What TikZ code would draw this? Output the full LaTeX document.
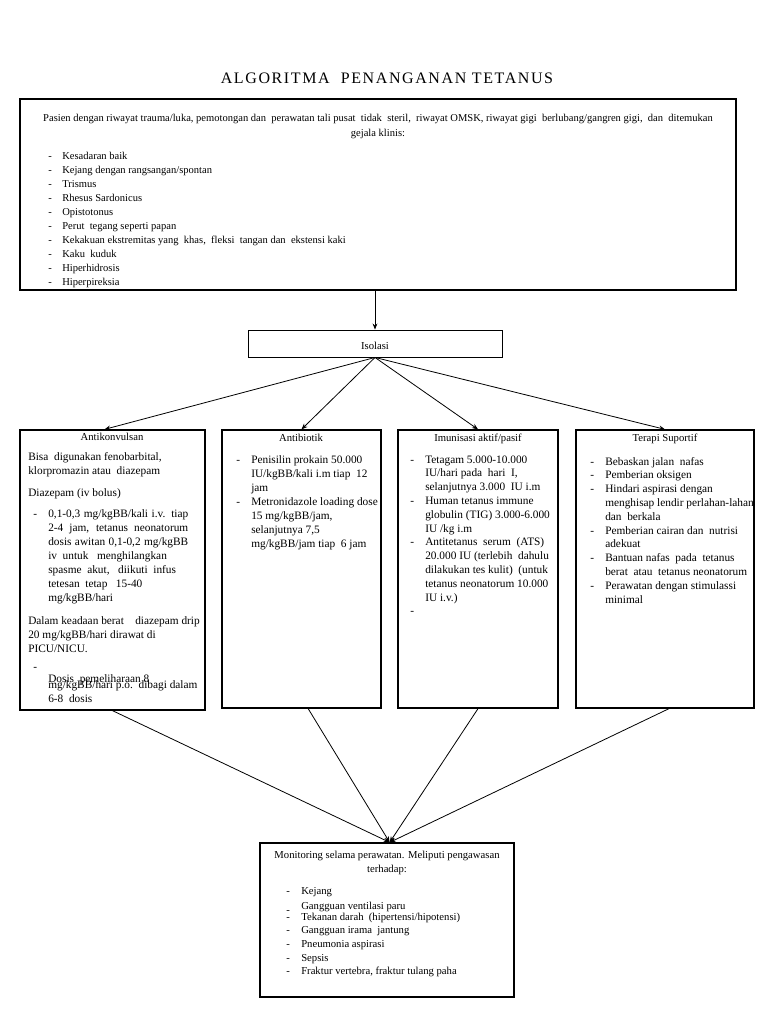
\documentclass[tikz,border=0pt]{standalone}
\usepackage{fontspec}
\setmainfont{Liberation Serif}
\newfontfamily\titlefont[LetterSpace=10]{Liberation Serif}
\usetikzlibrary{arrows.meta,fit}
\newcommand{\dd}[1][11.25pt]{\makebox[#1][l]{-}}
\newcommand{\ii}[1][11.25pt]{\hspace*{#1}}
\newcommand{\ft}{\fontsize{7.9}{10.5}\selectfont}
\newcommand{\fc}{\fontsize{8.5}{10.5}\selectfont}
\newcommand{\fcc}{\fontsize{8.5}{10.35}\selectfont}
\newcommand{\fh}{\fontsize{8}{10}\selectfont}
\begin{document}
\begin{tikzpicture}[x=0.75pt,y=-0.75pt,
  bigbox/.style={draw, line width=1.3pt, inner sep=0pt},
  colbox/.style={draw, line width=0.95pt, inner sep=0pt},
  thinbox/.style={draw, line width=0.7pt, inner sep=0pt},
  tx/.style={anchor=base west, inner sep=0pt},
  tc/.style={anchor=base, inner sep=0pt},
  conn/.style={line width=0.6pt, -{Stealth[length=4.5pt,width=3.6pt]}}]
\useasboundingbox (0,0) rectangle (768,1024);
\fill[white] (0,0) rectangle (768,1024);

% title
\node[tc] (title) at (387,84) {\titlefont\fontsize{12}{14}\selectfont ALGORITMA\ \ PENANGANAN TETANUS};

% top box
\node[bigbox, fit={(20,99) (736,290)}] (top) {};
\node[tc] (t1) at (378,122) {\ft Pasien dengan riwayat trauma/luka, pemotongan dan\ \ perawatan tali pusat\ \ tidak\ \ steril,\ \ riwayat OMSK, riwayat gigi\ \ berlubang/gangren gigi,\ \ dan\ \ ditemukan};
\node[tc] (t2) at (378,136) {\ft gejala klinis:};
\node[tx] (t3) at (48,159) {\parbox[t]{500pt}{\ft\raggedright
\dd[10.5pt]Kesadaran baik\\
\dd[10.5pt]Kejang dengan rangsangan/spontan\\
\dd[10.5pt]Trismus\\
\dd[10.5pt]Rhesus Sardonicus\\
\dd[10.5pt]Opistotonus\\
\dd[10.5pt]Perut\ \ tegang seperti papan\\
\dd[10.5pt]Kekakuan ekstremitas yang\ \ khas,\ \ fleksi\ \ tangan dan\ \ ekstensi kaki\\
\dd[10.5pt]Kaku\ \ kuduk\\
\dd[10.5pt]Hiperhidrosis\\
\dd[10.5pt]Hiperpireksia}};

% isolasi
\node[thinbox, fit={(248,330) (502,357)}] (iso) {};
\node[tc] (isot) at (375,349) {\fh Isolasi};

% column boxes
\node[colbox, fit={(20,430) (205,710)}] (ak) {};
\node[colbox, fit={(222,430) (381,708)}] (ab) {};
\node[colbox, fit={(398,430) (558,708)}] (im) {};
\node[colbox, fit={(576,430) (754,708)}] (tp) {};

% Antikonvulsan
\node[tc] (akt) at (112,440) {\fh Antikonvulsan};
\node[tx] (ak1) at (28,460) {\parbox[t]{160pt}{\fc\raggedright Bisa\ \ digunakan fenobarbital,\\ klorpromazin atau\ \ diazepam}};
\node[tx] (ak2) at (28,496) {\fc Diazepam (iv bolus)};
\node[tx] (ak3) at (33,517) {\parbox[t]{160pt}{\fc\raggedright
\dd\makebox[105pt][s]{0,1-0,3 mg/kgBB/kali i.v. tiap}\\
\ii\makebox[105pt][s]{2-4 jam, tetanus neonatorum}\\
\ii\makebox[105pt][s]{dosis awitan 0,1-0,2 mg/kgBB}\\
\ii iv\ \ untuk\ \ \ menghilangkan\\
\ii spasme\ \ akut,\ \ \ diikuti\ \ infus\\
\ii tetesan\ \ tetap\ \ \ 15-40\\
\ii mg/kgBB/hari}};
\node[tx] (ak4) at (28,624) {\parbox[t]{160pt}{\fc\raggedright Dalam keadaan berat\ \ \ \ diazepam drip\\ 20 mg/kgBB/hari dirawat di\\ PICU/NICU.}};
\node[tx] (ak5) at (33,670) {\fc -};
\node[tx] (ak6) at (48,682) {\fc Dosis\ \ pemeliharaan 8};
\node[tx] (ak7) at (48,688) {\parbox[t]{160pt}{\fc\raggedright mg/kgBB/hari p.o.\ \ dibagi dalam\\ 6-8\ \ dosis}};

% Antibiotik
\node[tc] (abt) at (301,441) {\fh Antibiotik};
\node[tx] (ab1) at (236,463) {\parbox[t]{140pt}{\fc\raggedright
\dd Penisilin prokain 50.000\\
\ii IU/kgBB/kali i.m tiap\ \ 12\\
\ii jam\\
\dd Metronidazole loading dose\\
\ii 15 mg/kgBB/jam,\\
\ii selanjutnya 7,5\\
\ii mg/kgBB/jam tiap\ \ 6 jam}};

% Imunisasi
\node[tc] (imt) at (478,441) {\fh Imunisasi aktif/pasif};
\node[tx] (im1) at (410,463) {\parbox[t]{140pt}{\fcc\raggedright
\dd Tetagam 5.000-10.000\\
\ii IU/hari pada\ \ hari\ \ I,\\
\ii selanjutnya 3.000\ \ IU i.m\\
\dd Human tetanus immune\\
\ii globulin (TIG) 3.000-6.000\\
\ii IU /kg i.m\\
\dd Antitetanus\ \ serum\ \ (ATS)\\
\ii 20.000 IU (terlebih\ \ dahulu\\
\ii dilakukan tes kulit)\ \ (untuk\\
\ii tetanus neonatorum 10.000\\
\ii IU i.v.)}};
\node[tx] (im2) at (410,614) {\fc -};

% Terapi Suportif
\node[tc] (tpt) at (665,441) {\fh Terapi Suportif};
\node[tx] (tp1) at (590,465) {\parbox[t]{160pt}{\fcc\raggedright
\dd Bebaskan jalan\ \ nafas\\
\dd Pemberian oksigen\\
\dd Hindari aspirasi dengan\\
\ii menghisap lendir perlahan-lahan\\
\ii dan\ \ berkala\\
\dd Pemberian cairan dan\ \ nutrisi\\
\ii adekuat\\
\dd Bantuan nafas\ \ pada\ \ tetanus\\
\ii berat\ \ atau\ \ tetanus neonatorum\\
\dd Perawatan dengan stimulassi\\
\ii minimal}};

% Monitoring
\node[colbox, fit={(260,843) (514,997)}] (mon) {};
\node[tc] (m1) at (387,858) {\fh Monitoring selama perawatan. Meliputi pengawasan};
\node[tc] (m2) at (387,872) {\fh terhadap:};
\node[tx] (m3) at (286,894) {\fh\dd Kejang};
\node[tx] (m4) at (301,909) {\fh Gangguan ventilasi paru};
\node[tx] (m5) at (286,913) {\fh -};
\node[tx] (m6) at (286,920) {\parbox[t]{200pt}{\fontsize{8}{10.3}\selectfont\raggedright
\dd Tekanan darah\ \ (hipertensi/hipotensi)\\
\dd Gangguan irama\ \ jantung\\
\dd Pneumonia aspirasi\\
\dd Sepsis\\
\dd Fraktur vertebra, fraktur tulang paha}};

% connectors
\draw[conn] (iso.north |- top.south) -- (iso.north);
\draw[conn] (iso.south) -- ([xshift=-6pt]ak.north);
\draw[conn] (iso.south) -- (ab.north);
\draw[conn] (iso.south) -- (im.north);
\draw[conn] (iso.south) -- (tp.north);
\draw[conn] (ak.south) -- ([xshift=2pt]mon.north);
\draw[conn] ([xshift=5pt]ab.south) -- ([xshift=2pt]mon.north);
\draw[conn] (im.south) -- ([xshift=2pt]mon.north);
\draw[conn] ([xshift=3pt]tp.south) -- ([xshift=2pt]mon.north);
\end{tikzpicture}
\end{document}
